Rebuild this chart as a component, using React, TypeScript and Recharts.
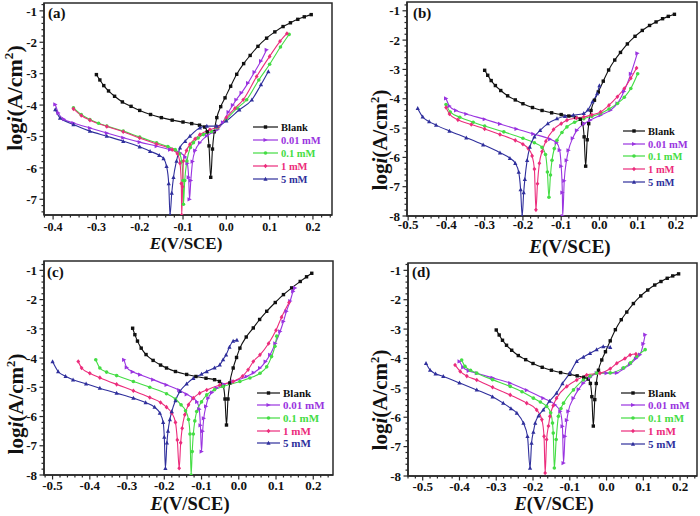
import React from 'react';
import { LineChart, Line, XAxis, YAxis, ReferenceArea } from 'recharts';

type Pt = [number, number]; // [E (V/SCE), log i]

// blank scan as read in panels (a), (b), (d)
const blankCurve: Pt[] = [
  [-0.3, -3.03], [-0.292, -3.2], [-0.283, -3.38], [-0.272, -3.55], [-0.258, -3.72], [-0.24, -3.9],
  [-0.22, -4.04], [-0.2, -4.17], [-0.175, -4.3], [-0.15, -4.4], [-0.125, -4.48], [-0.1, -4.54],
  [-0.08, -4.59], [-0.062, -4.64], [-0.05, -4.7], [-0.044, -4.85], [-0.04, -5.3], [-0.036, -6.3],
  [-0.032, -5.4], [-0.028, -4.85], [-0.022, -4.4], [-0.013, -4.05], [-0.003, -3.77], [0.01, -3.4],
  [0.024, -3.02], [0.04, -2.68], [0.055, -2.42], [0.073, -2.13], [0.093, -1.87], [0.112, -1.67],
  [0.131, -1.5], [0.148, -1.38], [0.165, -1.27], [0.18, -1.19], [0.196, -1.12],
];
// blank scan as read in panel (c)
const cBlank: Pt[] = [
  [-0.285, -2.98], [-0.279, -3.2], [-0.272, -3.42], [-0.262, -3.66], [-0.249, -3.88], [-0.23, -4.08],
  [-0.21, -4.24], [-0.194, -4.34], [-0.17, -4.46], [-0.14, -4.56], [-0.115, -4.63], [-0.088, -4.69],
  [-0.065, -4.74], [-0.052, -4.8], [-0.042, -4.95], [-0.037, -5.4], [-0.033, -6.29], [-0.029, -5.4],
  [-0.024, -4.85], [-0.015, -4.34], [-0.006, -3.98], [0.003, -3.66], [0.02, -3.28], [0.039, -2.97],
  [0.056, -2.68], [0.075, -2.4], [0.098, -2.1], [0.12, -1.83], [0.142, -1.6], [0.165, -1.38],
  [0.182, -1.22], [0.196, -1.1],
];

// (a)
const aInh001: Pt[] = [
  [-0.395, -3.98], [-0.388, -4.25], [-0.375, -4.45], [-0.353, -4.57], [-0.315, -4.73], [-0.276, -4.89],
  [-0.238, -5.04], [-0.2, -5.18], [-0.161, -5.31], [-0.13, -5.42], [-0.107, -5.52], [-0.095, -5.65],
  [-0.09, -5.85], [-0.087, -6.3], [-0.085, -7.0], [-0.082, -6.4], [-0.078, -5.8], [-0.072, -5.45],
  [-0.061, -5.2], [-0.045, -4.98], [-0.03, -4.85], [-0.02, -4.78], [-0.008, -4.55], [0.005, -4.22],
  [0.015, -4.0], [0.023, -3.83], [0.035, -3.61], [0.05, -3.3], [0.065, -2.95], [0.08, -2.6], [0.093, -2.24],
];
const aInh01: Pt[] = [
  [-0.353, -4.09], [-0.335, -4.3], [-0.315, -4.46], [-0.295, -4.58], [-0.276, -4.67], [-0.238, -4.83],
  [-0.2, -5.02], [-0.161, -5.2], [-0.135, -5.32], [-0.118, -5.42], [-0.108, -5.55], [-0.103, -5.8],
  [-0.1, -6.4], [-0.099, -7.16], [-0.096, -6.4], [-0.091, -5.78], [-0.083, -5.35], [-0.076, -5.2],
  [-0.065, -5.05], [-0.053, -4.94], [-0.034, -4.84], [-0.02, -4.72], [0.0, -4.45], [0.025, -4.1],
  [0.047, -3.83], [0.075, -3.2], [0.1, -2.7], [0.125, -2.15], [0.145, -1.75],
];
const aInh1: Pt[] = [
  [-0.353, -4.12], [-0.335, -4.33], [-0.315, -4.48], [-0.276, -4.68], [-0.238, -4.85], [-0.2, -5.05],
  [-0.161, -5.24], [-0.125, -5.42], [-0.113, -5.55], [-0.107, -5.85], [-0.104, -6.5], [-0.103, -7.5],
  [-0.101, -6.6], [-0.099, -5.78], [-0.092, -5.45], [-0.084, -5.25], [-0.072, -5.07], [-0.061, -4.94],
  [-0.038, -4.78], [-0.02, -4.7], [0.0, -4.4], [0.02, -4.1], [0.039, -3.83], [0.07, -3.09], [0.1, -2.45],
  [0.124, -1.97], [0.14, -1.72],
];
const aInh5: Pt[] = [
  [-0.395, -4.14], [-0.384, -4.41], [-0.353, -4.62], [-0.315, -4.83], [-0.276, -4.99], [-0.238, -5.15],
  [-0.2, -5.33], [-0.176, -5.47], [-0.155, -5.6], [-0.145, -5.7], [-0.138, -5.95], [-0.133, -6.5],
  [-0.13, -7.5], [-0.126, -6.8], [-0.122, -6.3], [-0.115, -5.78], [-0.107, -5.36], [-0.095, -5.15],
  [-0.084, -4.99], [-0.061, -4.72], [-0.045, -4.67], [-0.022, -4.67], [0.0, -4.5], [0.03, -4.15],
  [0.059, -3.83], [0.08, -3.35], [0.097, -2.93],
];

// (b)
const bInh001: Pt[] = [
  [-0.401, -3.99], [-0.392, -4.25], [-0.375, -4.4], [-0.348, -4.52], [-0.3, -4.7], [-0.26, -4.86],
  [-0.217, -5.03], [-0.173, -5.2], [-0.129, -5.38], [-0.112, -5.5], [-0.104, -5.75], [-0.1, -6.3],
  [-0.097, -7.2], [-0.096, -8.0], [-0.092, -6.8], [-0.086, -6.1], [-0.081, -5.76], [-0.07, -5.35],
  [-0.059, -5.08], [-0.04, -4.85], [-0.024, -4.73], [0.003, -4.56], [0.029, -4.39], [0.047, -4.16],
  [0.064, -3.75], [0.082, -3.15], [0.099, -2.45],
];
const bInh01: Pt[] = [
  [-0.401, -4.2], [-0.39, -4.45], [-0.365, -4.63], [-0.33, -4.8], [-0.3, -4.93], [-0.25, -5.13],
  [-0.2, -5.35], [-0.17, -5.5], [-0.15, -5.66], [-0.141, -5.9], [-0.136, -6.5], [-0.132, -7.36],
  [-0.128, -6.6], [-0.124, -6.1], [-0.118, -5.7], [-0.111, -5.42], [-0.098, -5.15], [-0.085, -4.96],
  [-0.065, -4.8], [-0.041, -4.68], [-0.02, -4.6], [0.003, -4.5], [0.025, -4.35], [0.047, -4.16],
  [0.065, -3.95], [0.082, -3.65], [0.1, -3.15],
];
const bInh1: Pt[] = [
  [-0.401, -4.3], [-0.392, -4.52], [-0.37, -4.72], [-0.335, -4.88], [-0.3, -5.03], [-0.26, -5.22],
  [-0.22, -5.42], [-0.2, -5.55], [-0.186, -5.7], [-0.176, -5.95], [-0.17, -6.4], [-0.166, -7.79],
  [-0.162, -6.9], [-0.157, -6.2], [-0.15, -5.8], [-0.14, -5.45], [-0.12, -5.05], [-0.1, -4.85],
  [-0.085, -4.73], [-0.06, -4.66], [-0.041, -4.62], [-0.02, -4.55], [0.003, -4.45], [0.025, -4.22],
  [0.047, -3.93], [0.065, -3.65], [0.082, -3.3], [0.097, -2.95],
];
const bInh5: Pt[] = [
  [-0.475, -4.33], [-0.462, -4.62], [-0.445, -4.78], [-0.427, -4.9], [-0.392, -5.1], [-0.348, -5.33],
  [-0.304, -5.57], [-0.26, -5.84], [-0.234, -6.03], [-0.22, -6.2], [-0.211, -6.5], [-0.206, -7.1],
  [-0.202, -8.0], [-0.198, -7.2], [-0.195, -6.75], [-0.189, -6.1], [-0.182, -5.65], [-0.17, -5.3],
  [-0.155, -5.08], [-0.135, -4.85], [-0.111, -4.68], [-0.09, -4.6], [-0.068, -4.56], [-0.041, -4.5],
  [-0.03, -4.38], [-0.018, -4.1], [-0.006, -3.82], [0.0, -3.55],
];

// (c)
const cInh001: Pt[] = [
  [-0.308, -4.06], [-0.301, -4.32], [-0.285, -4.47], [-0.265, -4.57], [-0.23, -4.74], [-0.194, -4.92],
  [-0.16, -5.1], [-0.14, -5.24], [-0.122, -5.38], [-0.112, -5.5], [-0.106, -5.75], [-0.103, -6.3],
  [-0.1, -7.2], [-0.097, -6.5], [-0.094, -6.06], [-0.088, -5.65], [-0.082, -5.37], [-0.072, -5.18],
  [-0.06, -5.03], [-0.04, -4.9], [-0.015, -4.8], [0.021, -4.63], [0.04, -4.5], [0.057, -4.34],
  [0.072, -4.12], [0.084, -3.89], [0.098, -3.5], [0.111, -3.09], [0.12, -2.75], [0.128, -2.4],
  [0.138, -2.05], [0.146, -1.72], [0.151, -1.6],
];
const cInh01: Pt[] = [
  [-0.384, -4.06], [-0.373, -4.34], [-0.355, -4.48], [-0.328, -4.6], [-0.283, -4.8], [-0.239, -5.0],
  [-0.194, -5.22], [-0.17, -5.4], [-0.155, -5.6], [-0.143, -5.8], [-0.135, -6.1], [-0.131, -6.6],
  [-0.128, -8.0], [-0.125, -7.2], [-0.122, -6.6], [-0.118, -6.15], [-0.113, -5.83], [-0.1, -5.5],
  [-0.086, -5.26], [-0.065, -5.08], [-0.042, -4.97], [0.003, -4.8], [0.03, -4.68], [0.057, -4.52],
  [0.075, -4.3], [0.088, -3.95], [0.097, -3.6], [0.102, -3.25],
];
const cInh1: Pt[] = [
  [-0.431, -4.12], [-0.422, -4.34], [-0.4, -4.52], [-0.373, -4.67], [-0.328, -4.9], [-0.283, -5.12],
  [-0.239, -5.35], [-0.21, -5.52], [-0.194, -5.68], [-0.18, -5.88], [-0.17, -6.2], [-0.165, -6.8],
  [-0.16, -7.77], [-0.156, -6.9], [-0.152, -6.4], [-0.145, -5.94], [-0.135, -5.6], [-0.122, -5.37],
  [-0.105, -5.2], [-0.086, -5.09], [-0.051, -4.92], [-0.015, -4.8], [0.01, -4.62], [0.025, -4.4],
  [0.039, -4.12], [0.057, -3.89], [0.08, -3.5], [0.1, -3.05], [0.115, -2.6], [0.135, -2.1],
];
const cInh5: Pt[] = [
  [-0.5, -4.12], [-0.485, -4.46], [-0.465, -4.62], [-0.445, -4.74], [-0.41, -4.88], [-0.373, -5.03],
  [-0.328, -5.2], [-0.283, -5.37], [-0.25, -5.52], [-0.226, -5.68], [-0.212, -5.88], [-0.203, -6.2],
  [-0.2, -6.7], [-0.197, -7.77], [-0.193, -6.9], [-0.19, -6.5], [-0.185, -6.1], [-0.18, -5.83],
  [-0.17, -5.45], [-0.158, -5.14], [-0.14, -4.88], [-0.122, -4.69], [-0.1, -4.55], [-0.086, -4.46],
  [-0.065, -4.33], [-0.051, -4.23], [-0.042, -4.05], [-0.034, -3.89], [-0.025, -3.62], [-0.015, -3.42],
  [-0.005, -3.38],
];

// (d)
const dInh001: Pt[] = [
  [-0.4, -4.1], [-0.39, -4.3], [-0.375, -4.42], [-0.353, -4.5], [-0.31, -4.66], [-0.262, -4.84],
  [-0.217, -5.08], [-0.172, -5.35], [-0.14, -5.58], [-0.126, -5.8], [-0.12, -6.31], [-0.117, -7.56],
  [-0.113, -6.65], [-0.108, -6.1], [-0.104, -5.8], [-0.09, -5.35], [-0.076, -5.05], [-0.063, -4.84],
  [-0.045, -4.65], [-0.027, -4.5], [0.0, -4.5], [0.028, -4.49], [0.046, -4.35], [0.064, -4.2],
  [0.08, -4.0], [0.091, -3.87], [0.1, -3.5], [0.105, -3.19],
];
const dInh01: Pt[] = [
  [-0.394, -4.05], [-0.385, -4.27], [-0.37, -4.4], [-0.353, -4.5], [-0.31, -4.72], [-0.262, -4.95],
  [-0.23, -5.13], [-0.199, -5.35], [-0.18, -5.48], [-0.163, -5.63], [-0.152, -5.85], [-0.147, -6.2],
  [-0.145, -6.54], [-0.142, -7.73], [-0.137, -6.76], [-0.131, -5.97], [-0.124, -5.7], [-0.117, -5.52],
  [-0.09, -5.07], [-0.063, -4.73], [-0.045, -4.6], [-0.027, -4.5], [0.01, -4.49], [0.046, -4.32],
  [0.065, -4.15], [0.082, -3.92], [0.105, -3.7],
];
const dInh1: Pt[] = [
  [-0.412, -4.22], [-0.398, -4.44], [-0.38, -4.6], [-0.353, -4.73], [-0.31, -4.98], [-0.262, -5.24],
  [-0.217, -5.52], [-0.19, -5.75], [-0.176, -6.08], [-0.17, -6.65], [-0.167, -7.9], [-0.163, -6.76],
  [-0.158, -6.3], [-0.154, -5.97], [-0.145, -5.6], [-0.136, -5.35], [-0.108, -4.95], [-0.081, -4.73],
  [-0.054, -4.56], [-0.018, -4.5], [0.01, -4.35], [0.028, -4.16], [0.05, -4.0], [0.064, -3.88], [0.08, -3.85],
];
const dInh5: Pt[] = [
  [-0.491, -4.16], [-0.48, -4.39], [-0.465, -4.52], [-0.444, -4.61], [-0.4, -4.83], [-0.353, -5.07],
  [-0.31, -5.3], [-0.281, -5.52], [-0.26, -5.7], [-0.244, -5.86], [-0.226, -6.2], [-0.215, -6.65],
  [-0.208, -7.73], [-0.204, -6.88], [-0.199, -6.5], [-0.194, -6.2], [-0.185, -5.95], [-0.172, -5.75],
  [-0.155, -5.45], [-0.136, -5.18], [-0.12, -4.85], [-0.1, -4.5], [-0.081, -4.1], [-0.063, -3.95],
  [-0.045, -3.82], [-0.027, -3.7], [-0.009, -3.59], [0.01, -3.62],
];

const seriesNames = ['Blank', '0.01 mM', '0.1 mM', '1 mM', '5 mM'];
const seriesColors = ['#111111', '#9a34e0', '#44dd44', '#ec2c7c', '#2f2f9c'];
const seriesMarkers = ['square', 'triRight', 'circle', 'diamond', 'triUp'];

const xMajorA = [-0.4, -0.3, -0.2, -0.1, 0.0, 0.1, 0.2];
const xMajor = [-0.5, -0.4, -0.3, -0.2, -0.1, 0.0, 0.1, 0.2];
const yMajorA = [-7, -6, -5, -4, -3, -2, -1];
const yMajor = [-8, -7, -6, -5, -4, -3, -2, -1];

const SERIF = "'Liberation Serif', 'Times New Roman', serif";
const AXIS = '#2a2a2a';

const panels = [
  {
    tag: '(a)', left: 0, top: 0, curves: [blankCurve, aInh001, aInh01, aInh1, aInh5],
    xDomain: [-0.421, 0.244], yDomain: [-7.5, -0.75], xMajor: xMajorA, yMajor: yMajorA,
    plot: { l: 44, r: 332, t: 3, b: 215 }, xLabelDy: 16, xFont: 12, yFont: 13,
    tagPos: [48, 18], yTitle: [14, 98, 22], xTitle: [186, 249, 17],
    legendRows: [127, 140, 153, 166, 179], legendLine: [253, 278], legendFont: 10.5,
  },
  {
    tag: '(b)', left: 350, top: 0, curves: [blankCurve, bInh001, bInh01, bInh1, bInh5],
    xDomain: [-0.503, 0.255], yDomain: [-8, -0.7], xMajor, yMajor,
    plot: { l: 57, r: 347, t: 2, b: 216 }, xLabelDy: 13, xFont: 13, yFont: 13,
    tagPos: [63, 18], yTitle: [30, 140, 21], xTitle: [220, 253, 19],
    legendRows: [131, 144, 156, 169, 182], legendLine: [273, 295], legendFont: 10.5,
  },
  {
    tag: '(c)', left: 0, top: 258, curves: [cBlank, cInh001, cInh01, cInh1, cInh5],
    xDomain: [-0.523, 0.253], yDomain: [-8, -0.68], xMajor, yMajor,
    plot: { l: 44, r: 333, t: 3, b: 217 }, xLabelDy: 15, xFont: 13, yFont: 13,
    tagPos: [47, 19], yTitle: [16, 146, 21], xTitle: [190, 252, 18.5],
    legendRows: [135, 147, 160, 173, 185], legendLine: [257, 280], legendFont: 11,
  },
  {
    tag: '(d)', left: 350, top: 258, curves: [blankCurve, dInh001, dInh01, dInh1, dInh5],
    xDomain: [-0.54, 0.246], yDomain: [-8, -0.75], xMajor, yMajor,
    plot: { l: 58, r: 347, t: 5, b: 218 }, xLabelDy: 15, xFont: 13, yFont: 13,
    tagPos: [62, 19], yTitle: [30, 142, 21], xTitle: [204, 252, 18.5],
    legendRows: [135, 147, 160, 173, 186], legendLine: [271, 295], legendFont: 11,
  },
];

const W = 350;
const H = 258;

const withMinor = (domain: number[], step: number) => {
  const out: number[] = [];
  const start = Math.ceil(domain[0] / step - 1e-9);
  const end = Math.floor(domain[1] / step + 1e-9);
  for (let i = start; i <= end; i++) out.push(Math.round(i * step * 1000) / 1000 + 0);
  return out;
};

const isMajor = (majors: number[], v: number) => majors.some((m) => Math.abs(m - v) < 1e-6);

const Marker = ({ shape, color, x, y }: { shape: string; color: string; x: number; y: number }) => {
  switch (shape) {
    case 'square':
      return <rect x={x - 1.7} y={y - 1.7} width={3.4} height={3.4} fill={color} />;
    case 'triRight':
      return <polygon points={`${x - 2},${y - 2.1} ${x + 2.3},${y} ${x - 2},${y + 2.1}`} fill={color} />;
    case 'circle':
      return <circle cx={x} cy={y} r={1.8} fill={color} />;
    case 'diamond':
      return <polygon points={`${x},${y - 2.3} ${x + 1.9},${y} ${x},${y + 2.3} ${x - 1.9},${y}`} fill={color} />;
    default:
      return <polygon points={`${x},${y - 2.3} ${x + 2.1},${y + 1.7} ${x - 2.1},${y + 1.7}`} fill={color} />;
  }
};

const dotFor = (shape: string, color: string) => (p: any) => {
  if (p.cx == null || p.cy == null) return <g key={`d-${p.index}`} />;
  return <Marker key={`d-${p.index}`} shape={shape} color={color} x={p.cx} y={p.cy} />;
};

const xTickFor = (majors: number[], dy: number, fs: number) => (p: any) => {
  const v = p.payload.value;
  const major = isMajor(majors, v);
  return (
    <g key={`xt-${p.index}`}>
      <line x1={p.x} x2={p.x} y1={p.y} y2={p.y + (major ? 4.5 : 2.5)} stroke={AXIS} strokeWidth={1.2} />
      {major && (
        <text x={p.x} y={p.y + dy} textAnchor="middle" fontSize={fs} fontWeight="bold" fill="#111" fontFamily={SERIF}>
          {v.toFixed(1)}
        </text>
      )}
    </g>
  );
};

const yTickFor = (majors: number[], fs: number) => (p: any) => {
  const v = p.payload.value;
  const major = isMajor(majors, v);
  return (
    <g key={`yt-${p.index}`}>
      <line x1={p.x - (major ? 4.5 : 2.5)} x2={p.x} y1={p.y} y2={p.y} stroke={AXIS} strokeWidth={1.2} />
      {major && (
        <text x={p.x - 7} y={p.y} dy="0.36em" textAnchor="end" fontSize={fs} fontWeight="bold" fill="#111" fontFamily={SERIF}>
          {String(v)}
        </text>
      )}
    </g>
  );
};

const Panel = ({ cfg }: { cfg: (typeof panels)[number] }) => {
  const { plot } = cfg;
  const [yx, yy, yfs] = cfg.yTitle;
  const [xx, xy, xfs] = cfg.xTitle;
  return (
    <div style={{ position: 'absolute', left: cfg.left, top: cfg.top, width: W, height: H }}>
      <LineChart
        width={W}
        height={H}
        margin={{ top: plot.t, right: W - plot.r, bottom: 0, left: 0 }}
      >
        <XAxis
          type="number"
          dataKey="x"
          domain={cfg.xDomain}
          allowDataOverflow
          ticks={withMinor(cfg.xDomain, 0.02)}
          interval={0}
          height={H - plot.b}
          tickSize={0}
          tickMargin={0}
          tickLine={false}
          axisLine={{ stroke: AXIS, strokeWidth: 1.5 }}
          tick={xTickFor(cfg.xMajor, cfg.xLabelDy, cfg.xFont)}
        />
        <YAxis
          type="number"
          dataKey="y"
          domain={cfg.yDomain}
          allowDataOverflow
          ticks={withMinor(cfg.yDomain, 0.2)}
          interval={0}
          width={plot.l}
          tickSize={0}
          tickMargin={0}
          tickLine={false}
          axisLine={{ stroke: AXIS, strokeWidth: 1.5 }}
          tick={yTickFor(cfg.yMajor, cfg.yFont)}
        />
        <ReferenceArea
          x1={cfg.xDomain[0]}
          x2={cfg.xDomain[1]}
          y1={cfg.yDomain[0]}
          y2={cfg.yDomain[1]}
          fill="none"
          stroke={AXIS}
          strokeWidth={1.5}
          ifOverflow="visible"
        />
        {cfg.curves.map((curve, i) => (
          <Line
            key={seriesNames[i]}
            data={curve.map(([x, y]) => ({ x, y }))}
            dataKey="y"
            type="monotone"
            stroke={seriesColors[i]}
            strokeWidth={1.1}
            dot={dotFor(seriesMarkers[i], seriesColors[i])}
            activeDot={false}
            isAnimationActive={false}
          />
        ))}
      </LineChart>
      <svg
        width={W}
        height={H}
        style={{ position: 'absolute', left: 0, top: 0, pointerEvents: 'none' }}
        fontFamily={SERIF}
        fontWeight="bold"
      >
        <text x={cfg.tagPos[0]} y={cfg.tagPos[1]} fontSize={15} fill="#111">{cfg.tag}</text>
        <text transform={`translate(${yx},${yy}) rotate(-90)`} textAnchor="middle" dy="0.35em" fontSize={yfs} fill="#111">
          log<tspan fontStyle="italic">i</tspan>(A/cm
          <tspan dy={-yfs * 0.4} fontSize={yfs * 0.6}>2</tspan>
          <tspan dy={yfs * 0.4}>)</tspan>
        </text>
        <text x={xx} y={xy} textAnchor="middle" fontSize={xfs} fill="#111">
          <tspan fontStyle="italic">E</tspan>(V/SCE)
        </text>
        {seriesNames.map((name, i) => {
          const y = cfg.legendRows[i];
          const [x1, x2] = cfg.legendLine;
          return (
            <g key={name}>
              <line x1={x1} x2={x2} y1={y} y2={y} stroke={seriesColors[i]} strokeWidth={1.2} />
              <Marker shape={seriesMarkers[i]} color={seriesColors[i]} x={(x1 + x2) / 2} y={y} />
              <text x={x2 + 3} y={y + 3.6} fontSize={cfg.legendFont} fill={seriesColors[i]}>{name}</text>
            </g>
          );
        })}
      </svg>
    </div>
  );
};

export default function App() {
  return (
    <div style={{ position: 'fixed', left: 0, top: 0, width: 700, height: 516, background: '#fff' }}>
      {panels.map((p) => (
        <Panel key={p.tag} cfg={p} />
      ))}
    </div>
  );
}
